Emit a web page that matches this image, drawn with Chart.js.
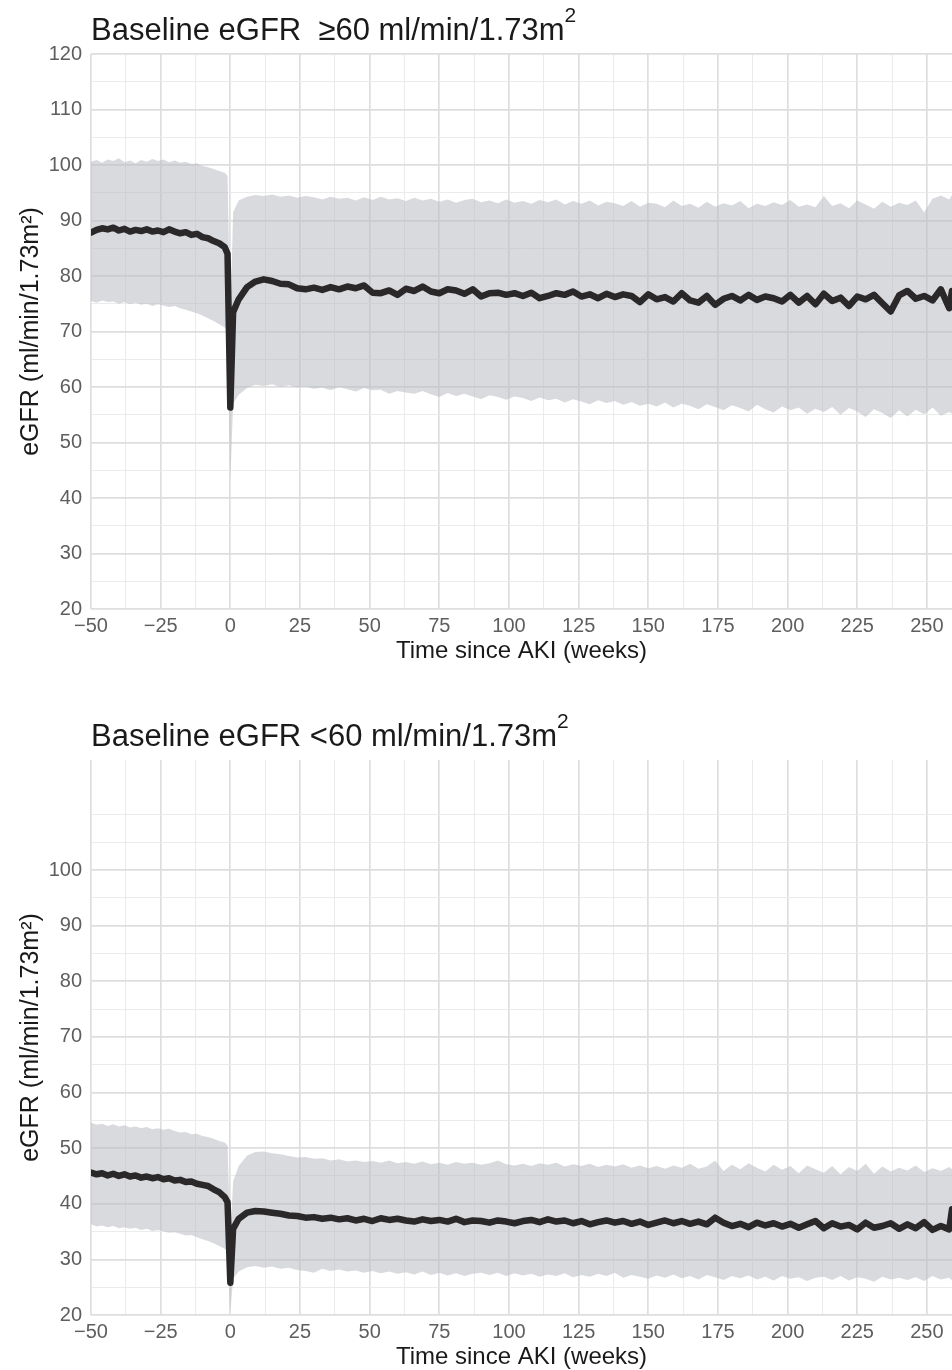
<!DOCTYPE html>
<html>
<head>
<meta charset="utf-8">
<title>eGFR after AKI</title>
<script src="https://cdn.jsdelivr.net/npm/chart.js@4.4.1/dist/chart.umd.min.js"></script>
<style>
  html, body { margin: 0; padding: 0; background: #fff; overflow: hidden; }
  body { width: 952px; height: 1370px; position: relative; font-family: "Liberation Sans", Arial, sans-serif; }
  .panel { position: absolute; left: 0; width: 952px; height: 669px; }
  .panel canvas { display: block; }
  .ttl { position: absolute; left: 91px; font-size: 31px; line-height: 31px; color: #1a1a1a; white-space: nowrap; }
  .ttl .sup { font-size: 21px; position: relative; top: -18px; }
</style>
</head>
<body>
<div class="panel" style="top:0"><canvas id="chartHigh" width="952" height="669"></canvas></div>
<div class="ttl" style="top:14px">Baseline eGFR&nbsp; ≥60 ml/min/1.73m<span class="sup">2</span></div>
<div class="panel" style="top:706px"><canvas id="chartLow" width="952" height="669"></canvas></div>
<div class="ttl" style="top:720px">Baseline eGFR &lt;60 ml/min/1.73m<span class="sup">2</span></div>

<script>
// weeks since AKI (shared by both panels)
const weeks = [
  -50, -48, -46, -44, -42, -40, -38, -36, -34, -32,
  -30, -28, -26, -24, -22, -20, -18, -16, -14, -12,
  -10, -8, -6, -4, -2, -1, 0, 1,
  3, 6, 9, 12, 15, 18, 21, 24, 27, 30,
  33, 36, 39, 42, 45, 48, 51, 54, 57, 60,
  63, 66, 69, 72, 75, 78, 81, 84, 87, 90,
  93, 96, 99, 102, 105, 108, 111, 114, 117, 120,
  123, 126, 129, 132, 135, 138, 141, 144, 147, 150,
  153, 156, 159, 162, 165, 168, 171, 174, 177, 180,
  183, 186, 189, 192, 195, 198, 201, 204, 207, 210,
  213, 216, 219, 222, 225, 228, 231, 234, 237, 240,
  243, 246, 249, 252, 255, 258, 259
];

// baseline eGFR >= 60
const highMean = [
  87.8, 88.3, 88.6, 88.4, 88.7, 88.2, 88.5, 88.0, 88.3, 88.1,
  88.4, 88.0, 88.2, 87.9, 88.4, 88.0, 87.7, 87.9, 87.4, 87.6,
  87.0, 86.8, 86.3, 85.9, 85.2, 84.0, 56.3, 73.5,
  75.8, 78.0, 79.0, 79.4, 79.1, 78.6, 78.5, 77.8, 77.6, 77.9,
  77.5, 78.0, 77.6, 78.1, 77.8, 78.3, 77.0, 76.9, 77.4, 76.6,
  77.7, 77.3, 78.1, 77.2, 76.9, 77.6, 77.4, 76.8, 77.6, 76.3,
  76.9, 77.0, 76.6, 76.9, 76.4, 77.0, 76.0, 76.4, 76.9, 76.6,
  77.2, 76.3, 76.7, 76.0, 76.8, 76.2, 76.7, 76.4, 75.3, 76.7,
  75.8, 76.2, 75.4, 76.9, 75.6, 75.2, 76.4, 74.8, 75.9, 76.4,
  75.6, 76.6, 75.7, 76.3, 76.0, 75.4, 76.6, 75.2, 76.4, 74.9,
  76.8, 75.5, 76.1, 74.6, 76.3, 75.8, 76.6, 75.1, 73.6, 76.5,
  77.3, 75.9, 76.4, 75.6, 77.6, 74.2, 77.3
];
const highUpper = [
  100.6, 100.9, 100.4, 101.0, 100.7, 101.2, 100.5, 100.8, 100.3, 100.9,
  100.6, 101.1, 100.7, 101.0, 100.5, 100.8, 100.4, 100.6, 100.2, 100.3,
  99.8, 99.6, 99.3, 98.9, 98.6, 98.0, 72.0, 91.5,
  93.6, 94.3, 94.6, 94.4, 94.7, 94.3, 94.5, 94.1, 94.4, 94.2,
  93.8, 94.3, 93.9, 94.1, 93.6, 94.2, 93.7, 94.3, 93.8, 94.0,
  93.5, 94.1, 93.6, 93.9, 93.4, 93.8, 93.2, 93.7, 93.9, 93.3,
  93.6, 93.1, 93.8, 93.2, 93.5, 93.0, 93.7, 93.3, 93.8, 92.9,
  93.5, 93.0, 93.6, 92.7, 93.4, 93.1, 92.6, 93.5, 92.5, 93.2,
  93.0, 92.4, 93.6, 92.6, 93.0, 92.3, 93.4, 92.5, 93.1, 92.7,
  93.5, 92.2, 93.0, 92.6, 93.3, 92.8, 93.7, 92.5, 92.9, 92.4,
  94.4, 92.6, 93.1, 92.2, 93.6, 92.9, 92.1, 93.4, 92.5, 93.2,
  92.8, 93.6, 91.5, 93.9, 94.5, 93.8, 94.6
];
const highLower = [
  75.5, 75.2, 75.6, 75.3, 75.4, 75.0, 75.3, 74.9, 75.2, 74.8,
  75.0, 74.6, 74.9, 74.7, 74.4, 74.6, 74.2, 73.9, 73.6, 73.3,
  72.9, 72.4, 71.9, 71.3, 70.7, 70.1, 43.0, 57.0,
  58.6, 59.8, 60.4, 60.2, 60.5, 60.0, 60.3, 59.9, 60.1, 59.7,
  59.9, 59.4, 60.0, 59.6, 59.2, 59.8, 59.4, 59.5, 58.8, 59.3,
  59.0, 58.8, 59.3, 58.7, 58.2, 58.9, 58.4, 58.8, 58.3, 57.8,
  58.5, 58.2, 57.7, 58.3, 58.0, 57.5, 58.1, 57.6, 57.9, 57.2,
  57.8, 57.4, 56.9, 57.6, 57.1, 57.5, 56.8, 57.3, 56.6, 57.0,
  56.5, 57.2, 56.3, 57.0, 56.6, 56.0, 56.9, 56.4, 55.8, 56.7,
  56.2, 55.6, 56.8, 56.0, 55.4, 56.5, 55.8, 56.3, 55.2, 56.1,
  55.5, 56.4, 55.0, 56.2, 55.6, 54.6, 56.0, 55.3, 54.4, 55.8,
  54.7, 55.9, 55.1, 56.3, 54.8, 55.5, 55.2
];

// baseline eGFR < 60
const lowMean = [
  45.6, 45.3, 45.5, 45.1, 45.4, 45.0, 45.3, 44.9, 45.1, 44.7,
  44.9, 44.6, 44.8, 44.4, 44.6, 44.2, 44.3, 43.9, 44.0, 43.6,
  43.4, 43.2, 42.6, 42.1, 41.2, 40.3, 25.8, 35.5,
  37.3, 38.4, 38.7, 38.6, 38.4, 38.2, 37.9, 37.8, 37.5, 37.6,
  37.3, 37.5, 37.2, 37.4, 37.0, 37.3, 36.9, 37.4, 37.1, 37.3,
  37.0, 36.8, 37.2, 36.9, 37.1, 36.8, 37.3, 36.7, 37.0, 36.9,
  36.6, 37.0, 36.8, 36.5, 36.9, 37.1, 36.7, 37.2, 36.8, 37.0,
  36.5, 36.9, 36.3, 36.7, 37.0, 36.6, 36.9, 36.4, 36.8, 36.2,
  36.6, 37.0, 36.5, 36.9, 36.4, 36.8, 36.3, 37.5, 36.6, 36.0,
  36.4, 35.8, 36.6, 36.1, 36.5, 35.9, 36.4, 35.7, 36.3, 36.9,
  35.6, 36.5, 35.9, 36.2, 35.4, 36.6, 35.7, 36.0, 36.5, 35.5,
  36.3, 35.6, 36.7, 35.3, 36.0, 35.4, 39.0
];
const lowUpper = [
  54.6, 54.2, 54.4, 54.0, 54.3, 53.9, 54.1, 53.7, 53.9, 53.6,
  53.8, 53.4, 53.6, 53.3, 53.5, 53.1, 52.8, 52.9, 52.5, 52.6,
  52.2, 52.0, 51.7, 51.3, 51.0, 50.5, 34.0, 44.0,
  46.8, 48.7, 49.3, 49.4, 49.1, 48.9, 48.6, 48.3, 48.4, 48.1,
  48.2, 47.8, 48.0, 47.6, 47.8, 47.5, 47.7, 47.4, 47.8, 47.3,
  47.5, 47.2, 47.6, 47.1, 47.4, 47.0, 47.5, 47.2, 47.4, 47.0,
  47.3, 47.8, 47.1, 46.9, 47.2, 46.8, 47.3, 47.0, 47.4, 46.7,
  47.1, 46.8, 47.2, 46.6, 47.0, 46.7, 47.1, 46.5, 46.9, 46.4,
  46.8, 46.3, 46.9, 46.5, 47.2, 46.3, 46.7, 47.8, 45.9, 47.0,
  46.2, 47.3, 46.5, 45.8, 47.0, 46.1, 46.8, 45.5, 46.9, 46.2,
  45.6, 46.8, 45.3, 46.6, 45.9, 47.2, 45.4, 46.7, 45.8, 46.5,
  46.0, 46.9, 45.7, 46.4, 45.9, 46.6, 46.2
];
const lowLower = [
  36.3, 35.9, 36.1, 35.8, 36.0, 35.6, 35.8, 35.5, 35.7, 35.3,
  35.5, 35.1, 35.3, 35.0, 34.8, 34.9, 34.6, 34.3, 34.4, 34.0,
  33.6, 33.3, 32.9, 32.4, 31.9, 31.3, 20.5, 26.5,
  27.8, 28.6, 28.8, 28.5, 28.7, 28.3, 28.5, 28.1, 27.9, 27.6,
  28.3, 27.9, 28.2, 27.8, 28.0, 27.6, 27.9, 27.5, 27.8, 27.4,
  27.7, 27.3, 27.8, 27.2, 27.6, 27.1, 27.5, 27.0, 27.4, 27.6,
  27.2, 27.6, 27.0, 27.5, 27.1, 27.4, 26.9, 27.3, 27.0, 27.5,
  26.8, 27.2, 26.9, 27.4, 27.0, 27.6, 26.7, 27.2, 26.9, 26.5,
  27.1, 26.7, 27.3, 26.6, 27.0, 26.4, 27.2, 26.8, 26.3, 27.0,
  26.6, 27.1, 26.4, 26.9, 26.2, 27.0, 26.5, 26.8, 26.1, 26.7,
  26.9, 26.3, 27.0, 26.2, 26.8, 26.5, 26.0, 26.9, 26.4, 26.7,
  26.3, 26.8, 26.1, 27.0, 26.4, 26.7, 26.2
];

// axis breaks
const xTicks = [-50, -37.5, -25, -12.5, 0, 12.5, 25, 37.5, 50, 62.5, 75, 87.5, 100, 112.5,
  125, 137.5, 150, 162.5, 175, 187.5, 200, 212.5, 225, 237.5, 250];
const xLabels = [-50, -25, 0, 25, 50, 75, 100, 125, 150, 175, 200, 225, 250];
const highYTicks = [20, 25, 30, 35, 40, 45, 50, 55, 60, 65, 70, 75, 80, 85, 90, 95, 100, 105, 110, 115, 120];
const highYLabels = [20, 30, 40, 50, 60, 70, 80, 90, 100, 110, 120];
const lowYTicks = [20, 25, 30, 35, 40, 45, 50, 55, 60, 65, 70, 75, 80, 85, 90, 95, 100, 105, 110];
const lowYLabels = [20, 30, 40, 50, 60, 70, 80, 90, 100];

const FONT = '"Liberation Sans", Arial, sans-serif';
const gridMajor = '#dedede';
const gridMinor = '#e9e9e9';
const bandColor = 'rgba(186, 188, 193, 0.55)';

function fmt(v) {
    return v < 0 ? '\u2212' + Math.abs(v) : String(v);
}

function makeChart(id, mean, upper, lower, yTicks, yLabels, yMax) {
    const pts = arr => weeks.map((w, i) => ({ x: w, y: arr[i] }));
    return new Chart(document.getElementById(id), {
        type: 'line',
        data: {
            datasets: [
                {
                    data: pts(mean),
                    borderColor: '#2a2829',
                    borderWidth: 6.5,
                    borderJoinStyle: 'round',
                    borderCapStyle: 'round',
                    pointRadius: 0,
                    fill: false,
                    tension: 0
                },
                {
                    data: pts(upper),
                    borderColor: 'transparent',
                    borderWidth: 0,
                    pointRadius: 0,
                    backgroundColor: bandColor,
                    fill: '+1'
                },
                {
                    data: pts(lower),
                    borderColor: 'transparent',
                    borderWidth: 0,
                    pointRadius: 0,
                    fill: false
                }
            ]
        },
        options: {
            responsive: false,
            animation: false,
            events: [],
            layout: { padding: { top: 54, left: 0, right: 0, bottom: 0 } },
            plugins: {
                legend: { display: false },
                tooltip: { enabled: false }
            },
            scales: {
                x: {
                    type: 'linear',
                    min: -50,
                    max: 259,
                    afterBuildTicks: s => { s.ticks = xTicks.map(v => ({ value: v })); },
                    afterFit: s => { s.height = 60; },
                    border: { display: false },
                    grid: {
                        drawTicks: false,
                        color: c => xLabels.includes(c.tick.value) ? gridMajor : gridMinor,
                        lineWidth: c => xLabels.includes(c.tick.value) ? 1.7 : 0.9
                    },
                    ticks: {
                        autoSkip: false,
                        maxRotation: 0,
                        padding: 5,
                        color: '#5e5e5e',
                        font: { family: FONT, size: 20 },
                        callback: v => xLabels.includes(v) ? fmt(v) : ''
                    },
                    title: {
                        display: true,
                        text: 'Time since AKI (weeks)',
                        color: '#1a1a1a',
                        font: { family: FONT, size: 24 },
                        padding: { top: 0, bottom: 3 }
                    }
                },
                y: {
                    min: 20,
                    max: yMax,
                    afterBuildTicks: s => { s.ticks = yTicks.map(v => ({ value: v })); },
                    afterFit: s => { s.width = 91; },
                    border: { display: false },
                    grid: {
                        drawTicks: false,
                        color: c => yLabels.includes(c.tick.value) ? gridMajor : gridMinor,
                        lineWidth: c => yLabels.includes(c.tick.value) ? 1.7 : 0.9
                    },
                    ticks: {
                        autoSkip: false,
                        padding: 9,
                        color: '#5e5e5e',
                        font: { family: FONT, size: 20 },
                        callback: v => yLabels.includes(v) ? String(v) : ''
                    },
                    title: {
                        display: true,
                        text: 'eGFR (ml/min/1.73m²)',
                        color: '#1a1a1a',
                        font: { family: FONT, size: 25 },
                        padding: { top: 16, bottom: 0 }
                    }
                }
            }
        }
    });
}

makeChart('chartHigh', highMean, highUpper, highLower, highYTicks, highYLabels, 120);
makeChart('chartLow', lowMean, lowUpper, lowLower, lowYTicks, lowYLabels, 119.8);
</script>
</body>
</html>
